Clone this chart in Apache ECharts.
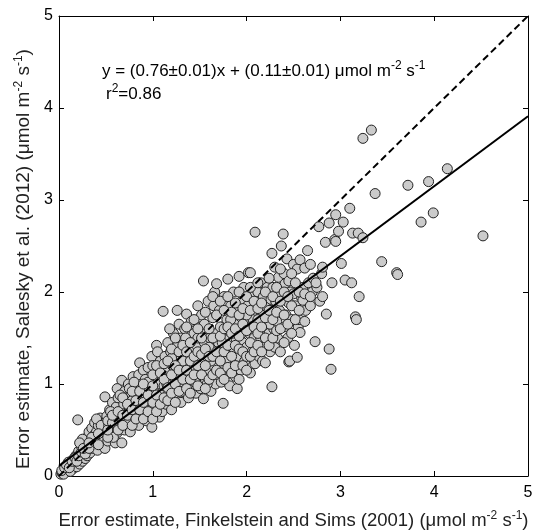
<!DOCTYPE html>
<html>
<head>
<meta charset="utf-8">
<script src="https://cdn.jsdelivr.net/npm/echarts@6/dist/echarts.min.js"></script>
<style>html,body{margin:0;padding:0;background:#fff;}#c{width:538px;height:531px;}</style>
</head>
<body>
<div id="c"></div>
<script>
// Axis ticks
const xTicks = [0, 1, 2, 3, 4, 5];
const yTicks = [0, 1, 2, 3, 4, 5];
// Fit: y = 0.76x + 0.11
const fitSlope = 0.76;
const fitIntercept = 0.11;
const oneToOneLine = [[0, 0], [5, 5]];
const fitLine = [[0, fitIntercept], [5, fitSlope * 5 + fitIntercept]];

// Scatter points [Finkelstein & Sims estimate, Salesky estimate]
const cloudLow = [
 [0.02,0.02],[0.03,0.04],[0.04,0.03],[0.05,0.06],[0.06,0.04],[0.07,0.08],[0.08,0.05],[0.09,0.1],[0.1,0.07],[0.11,0.12],[0.12,0.09],[0.13,0.15],[0.14,0.11],[0.15,0.18],[0.15,0.08],[0.05,0.02],[0.1,0.15],[0.12,0.05],
 [0.17,0.14],[0.18,0.22],[0.19,0.1],[0.2,0.61],[0.2,0.18],[0.21,0.27],[0.22,0.13],[0.23,0.2],[0.24,0.32],[0.25,0.16],[0.26,0.24],[0.27,0.35],[0.28,0.19],[0.29,0.28],[0.3,0.42],[0.3,0.22],[0.25,0.4],[0.22,0.36],
 [0.31,0.33],[0.32,0.48],[0.33,0.25],[0.34,0.38],[0.35,0.52],[0.36,0.3],[0.37,0.44],[0.38,0.58],[0.39,0.34],[0.4,0.48],[0.41,0.28],[0.42,0.55],[0.43,0.4],[0.44,0.63],[0.45,0.34],[0.46,0.5],[0.47,0.42],[0.48,0.58],[0.49,0.86],[0.49,0.3],[0.5,0.46],[0.35,0.42],[0.4,0.62],[0.45,0.55],
 [0.51,0.65],[0.52,0.38],[0.53,0.55],[0.54,0.72],[0.55,0.45],[0.56,0.62],[0.57,0.8],[0.58,0.52],[0.59,0.68],[0.6,0.36],[0.6,0.58],[0.61,0.75],[0.62,0.47],[0.63,0.85],[0.64,0.62],[0.65,0.53],[0.66,0.7],[0.67,1.04],[0.67,0.36],[0.68,0.6],[0.69,0.78],[0.7,0.5],[0.55,0.7],[0.62,0.95],[0.7,0.92],[0.58,0.42],[0.65,0.88]
];
const cloudMid = [
 [0.71,0.68],[0.72,0.85],[0.73,0.58],[0.74,1.0],[0.75,0.73],[0.76,0.48],[0.77,0.9],[0.78,0.64],[0.79,1.08],[0.8,0.78],[0.81,0.56],[0.82,0.95],[0.83,0.7],[0.84,0.85],[0.85,1.1],[0.86,1.23],[0.86,0.62],[0.87,0.8],[0.88,0.98],[0.89,0.68],[0.9,0.88],[0.75,0.95],[0.8,1.02],[0.9,1.15],[0.72,0.6],[0.85,0.55],[0.78,0.82],
 [0.91,0.74],[0.92,1.05],[0.93,0.6],[0.94,0.92],[0.95,1.18],[0.96,0.82],[0.97,0.66],[0.98,1.0],[0.99,0.53],[0.99,1.3],[1.0,0.88],[1.01,0.72],[1.02,1.12],[1.03,0.95],[1.04,1.42],[1.05,0.8],[1.06,1.05],[1.07,0.64],[1.08,1.25],[1.09,0.9],[1.1,1.1],[0.95,1.02],[1.0,1.2],[1.05,1.35],[1.1,0.7],[0.93,0.85],[1.08,1.0],
 [1.11,1.79],[1.12,0.98],[1.13,1.3],[1.14,0.78],[1.15,1.15],[1.16,1.45],[1.17,0.9],[1.18,1.05],[1.19,1.35],[1.2,0.72],[1.21,1.2],[1.22,1.55],[1.23,0.95],[1.24,1.12],[1.25,1.4],[1.26,1.8],[1.27,0.85],[1.28,1.25],[1.29,1.02],[1.3,1.5],[1.15,1.0],[1.2,1.28],[1.25,1.08],[1.3,0.8],[1.18,1.6],[1.28,1.65],[1.22,0.88],
 [1.31,1.18],[1.32,0.92],[1.33,1.38],[1.34,1.6],[1.35,1.05],[1.36,1.76],[1.37,1.28],[1.38,0.85],[1.39,1.45],[1.4,1.15],[1.41,1.68],[1.42,0.98],[1.43,1.35],[1.44,1.55],[1.45,1.2],[1.46,0.9],[1.47,1.42],[1.48,1.85],[1.49,1.1],[1.5,1.3],[1.35,1.5],[1.4,1.3],[1.45,1.02],[1.5,1.62],[1.32,1.25],[1.42,1.2],[1.48,1.5]
];
const cloudHigh = [
 [1.51,0.95],[1.52,1.75],[1.53,1.22],[1.54,2.12],[1.54,0.84],[1.55,1.45],[1.56,1.05],[1.57,1.6],[1.58,1.3],[1.59,1.9],[1.6,1.15],[1.61,1.5],[1.62,0.92],[1.63,1.38],[1.64,1.72],[1.65,1.2],[1.66,2.0],[1.67,1.0],[1.68,2.09],[1.68,1.55],[1.69,1.28],[1.7,1.45],[1.55,1.65],[1.6,1.4],[1.65,1.85],[1.7,1.1],[1.58,1.0],[1.62,1.25],
 [1.71,1.8],[1.72,1.35],[1.73,1.02],[1.74,1.62],[1.75,0.79],[1.75,1.2],[1.76,1.95],[1.77,1.5],[1.78,1.1],[1.79,1.7],[1.8,2.14],[1.8,1.3],[1.81,1.58],[1.82,0.98],[1.83,1.85],[1.84,1.4],[1.85,1.22],[1.86,2.0],[1.87,1.65],[1.88,1.08],[1.89,1.48],[1.9,0.95],[1.9,1.78],[1.74,1.45],[1.78,1.25],[1.83,1.7],[1.87,1.35],[1.72,1.62],
 [1.91,1.3],[1.92,2.17],[1.93,1.6],[1.94,1.15],[1.95,1.9],[1.96,1.45],[1.97,2.05],[1.98,1.25],[1.99,1.72],[2.0,1.4],[2.01,1.85],[2.02,2.21],[2.03,1.55],[2.04,1.12],[2.05,1.95],[2.06,1.35],[2.07,1.7],[2.08,1.5],[2.09,2.65],[2.09,1.22],[2.1,1.8],[1.95,1.55],[2.0,1.75],[2.05,1.62],[2.1,1.4],[2.04,2.21],
 [2.11,1.6],[2.12,2.0],[2.13,1.3],[2.14,1.9],[2.15,2.1],[2.15,1.5],[2.16,1.75],[2.17,1.25],[2.18,1.95],[2.19,1.62],[2.2,1.23],[2.2,1.85],[2.21,1.45],[2.22,2.05],[2.23,1.7],[2.24,1.55],[2.25,1.35],[2.26,1.92],[2.27,2.42],[2.27,0.97],[2.28,2.05],[2.28,1.8],[2.29,1.6],[2.3,1.4],[2.3,2.27],[2.12,1.7],[2.18,1.4],[2.25,1.65]
];
const cloudTail = [
 [2.31,1.9],[2.32,1.68],[2.33,1.5],[2.34,2.16],[2.35,1.8],[2.36,1.35],[2.37,2.5],[2.38,1.95],[2.39,2.63],[2.4,1.62],[2.41,2.09],[2.42,1.75],[2.43,2.36],[2.44,1.5],[2.45,1.24],[2.45,1.88],[2.46,1.25],[2.47,2.0],[2.48,1.7],[2.5,2.3],[2.51,1.42],[2.52,1.85],[2.54,1.29],[2.54,2.25],[2.55,1.62],[2.56,1.7],[2.57,1.56],[2.57,2.35],[2.58,1.95],[2.6,1.91],[2.6,2.05],[2.62,2.26],[2.35,2.0],[2.4,2.2],[2.5,1.98],[2.45,2.12],
 [2.63,1.8],[2.65,2.45],[2.66,2.1],[2.68,1.85],[2.7,2.0],[2.71,2.15],[2.73,1.46],[2.75,2.05],[2.77,2.71],[2.78,1.9],[2.8,2.2],[2.81,2.27],[2.81,1.95],[2.84,2.54],[2.85,1.76],[2.88,2.75],[2.88,1.38],[2.9,1.16],[2.91,2.1],[2.94,2.57],[2.95,2.84],[2.95,2.55],[2.98,2.66],[3.01,2.31],[3.03,2.76],[3.05,2.13],[3.1,2.91],[3.12,2.1],[3.13,2.64],[3.16,1.73],[3.17,1.7],[3.19,2.64],[3.2,1.95],[3.24,2.59],[3.24,3.67],[3.33,3.76],[3.37,3.07],[3.44,2.33],[3.6,2.21],[3.61,2.19],[3.72,3.16],[3.86,2.76],[3.94,3.2],[3.99,2.86],[4.14,3.34],[4.52,2.61]
];
const cloudFill = [
 [0.03,0.06],[0.06,0.09],[0.08,0.12],[0.11,0.09],[0.14,0.16],[0.17,0.2],[0.19,0.16],[0.21,0.22],[0.24,0.26],[0.27,0.28],[0.28,0.24],[0.26,0.3],
 [0.32,0.3],[0.32,0.36],[0.42,0.34],[0.42,0.46],[0.52,0.42],[0.52,0.5],[0.52,0.6],[0.57,0.58],[0.57,0.66],[0.63,0.5],[0.63,0.7],
 [0.68,0.55],[0.68,0.66],[0.68,0.85],[0.73,0.66],[0.73,0.78],[0.78,0.55],[0.78,0.72],[0.78,0.92],[0.82,0.62],[0.82,0.82],[0.86,0.72],[0.86,0.92],
 [0.9,0.62],[0.9,0.8],[0.9,1.0],[0.95,0.7],[0.95,0.88],[1.0,0.62],[1.0,0.8],[1.0,0.98],[1.0,1.1],[1.04,0.7],[1.04,0.88],[1.04,1.2],[1.08,0.78],[1.08,1.12],
 [1.12,0.85],[1.12,1.05],[1.12,1.22],[1.16,0.82],[1.16,0.96],[1.16,1.25],[1.2,0.9],[1.2,1.1],[1.2,1.38],[1.24,0.8],[1.24,1.0],[1.24,1.2],[1.24,1.5],
 [1.28,0.92],[1.28,1.15],[1.28,1.35],[1.32,1.05],[1.32,1.42],[1.36,0.95],[1.36,1.15],[1.36,1.35],[1.36,1.62],[1.4,0.9],[1.4,1.05],[1.4,1.25],[1.4,1.45],
 [1.44,1.1],[1.44,1.3],[1.44,1.7],[1.48,0.98],[1.48,1.2],[1.48,1.35],[1.48,1.6],[1.52,1.1],[1.52,1.32],[1.52,1.5],[1.56,0.95],[1.56,1.2],[1.56,1.38],[1.56,1.78],
 [1.6,1.05],[1.6,1.3],[1.6,1.6],[1.64,1.1],[1.64,1.3],[1.64,1.5],[1.64,1.95],[1.68,1.15],[1.68,1.35],[1.68,1.75],[1.72,1.12],[1.72,1.25],[1.72,1.52],[1.72,1.9],
 [1.76,1.05],[1.76,1.35],[1.76,1.6],[1.76,1.8],[1.8,1.18],[1.8,1.42],[1.8,1.62],[1.8,1.95],[1.84,1.12],[1.84,1.3],[1.84,1.55],[1.84,1.78],
 [1.88,1.2],[1.88,1.42],[1.88,1.6],[1.88,1.88],[1.92,1.05],[1.92,1.38],[1.92,1.52],[1.92,1.75],[1.92,2.0],[1.96,1.2],[1.96,1.35],[1.96,1.65],[1.96,1.82],
 [2.0,1.15],[2.0,1.3],[2.0,1.58],[2.0,1.95],[2.04,1.3],[2.04,1.45],[2.04,1.8],[2.04,2.05],[2.08,1.35],[2.08,1.62],[2.08,1.9],
 [2.12,1.42],[2.12,1.55],[2.12,1.82],[2.12,2.1],[2.16,1.35],[2.16,1.62],[2.16,1.88],[2.2,1.5],[2.2,1.72],[2.2,2.0],[2.24,1.42],[2.24,1.8],[2.24,2.15],
 [2.28,1.5],[2.28,1.7],[2.28,1.95],[2.32,1.58],[2.32,1.78],[2.32,2.05],[2.36,1.6],[2.36,1.9],[2.36,2.25],[2.4,1.45],[2.4,1.75],[2.4,2.0],
 [2.44,1.65],[2.44,1.95],[2.48,1.55],[2.48,1.85],[2.48,2.2],[2.52,1.7],[2.52,2.1],[2.56,1.8],[2.56,2.0],[2.62,1.68],[2.62,1.98],[2.68,1.95],[2.68,2.3],[2.74,2.1]
];
const allPoints = cloudLow.concat(cloudMid, cloudHigh, cloudTail, cloudFill);

const FONT = "'Liberation Sans', Arial, Helvetica, sans-serif";
const richX = {
  a: { fontSize: 18.5, fontFamily: FONT, color: '#222' },
  s: { fontSize: 12, fontFamily: FONT, color: '#222', padding: [0, 0, 10, 0] }
};
const richY = {
  a: { fontSize: 19, fontFamily: FONT, color: '#222' },
  s: { fontSize: 12, fontFamily: FONT, color: '#222', padding: [0, 0, 10, 0] }
};
const richNote = {
  a: { fontSize: 17, fontFamily: FONT, color: '#000' },
  s: { fontSize: 12, fontFamily: FONT, color: '#000', padding: [0, 0, 10, 0] }
};

function mkAxis(pos, isX, showLabel) {
  return {
    type: 'value', position: pos, min: 0, max: 5, interval: 1,
    axisLine: { show: true, onZero: false, lineStyle: { color: '#000', width: 1 } },
    axisTick: { show: true, inside: true, length: 5, lineStyle: { color: '#000' } },
    axisLabel: { show: showLabel, color: '#000', fontSize: 16, fontFamily: FONT, margin: isX ? 9 : 6,
      formatter: v => (isX ? xTicks : yTicks).includes(v) ? String(v) : '' },
    splitLine: { show: false }
  };
}

const chart = echarts.init(document.getElementById('c'), null, { renderer: 'canvas' });
const xMain = mkAxis('bottom', true, true);
xMain.name = '{a|Error estimate, Finkelstein and Sims (2001) (μmol m}{s|-2}{a| s}{s|-1}{a|)}';
xMain.nameLocation = 'middle';
xMain.nameGap = 34;
xMain.nameTextStyle = { rich: richX };
const yMain = mkAxis('left', false, true);
yMain.name = '{a|Error estimate, Salesky et al. (2012) (μmol m}{s|-2}{a| s}{s|-1}{a|)}';
yMain.nameLocation = 'middle';
yMain.nameGap = 17;
yMain.nameTextStyle = { rich: richY, padding: [0, 26, 0, 0] };

chart.setOption({
  animation: false,
  backgroundColor: '#fff',
  grid: { left: 59, right: 10, top: 16, bottom: 55, containLabel: false, outerBoundsMode: 'none' },
  xAxis: [xMain, mkAxis('top', true, false)],
  yAxis: [yMain, mkAxis('right', false, false)],
  series: [
    { type: 'scatter', xAxisIndex: 0, yAxisIndex: 0, data: allPoints, symbol: 'circle', symbolSize: 10,
      itemStyle: { color: '#cbcbcb', borderColor: '#222', borderWidth: 1, opacity: 1 }, z: 2 },
    { type: 'line', xAxisIndex: 0, yAxisIndex: 0, data: oneToOneLine, symbol: 'none',
      lineStyle: { color: '#000', width: 2, type: [7, 4] }, z: 5 },
    { type: 'line', xAxisIndex: 0, yAxisIndex: 0, data: fitLine, symbol: 'none',
      lineStyle: { color: '#000', width: 2 }, z: 5 }
  ],
  graphic: [
    { type: 'text', left: 102, top: 60, z: 10,
      style: { text: '{a|y = (0.76±0.01)x + (0.11±0.01) μmol m}{s|-2}{a| s}{s|-1}', rich: richNote } },
    { type: 'text', left: 106, top: 83, z: 10,
      style: { text: '{a|r}{s|2}{a|=0.86}', rich: richNote } }
  ]
});
</script>
</body>
</html>
